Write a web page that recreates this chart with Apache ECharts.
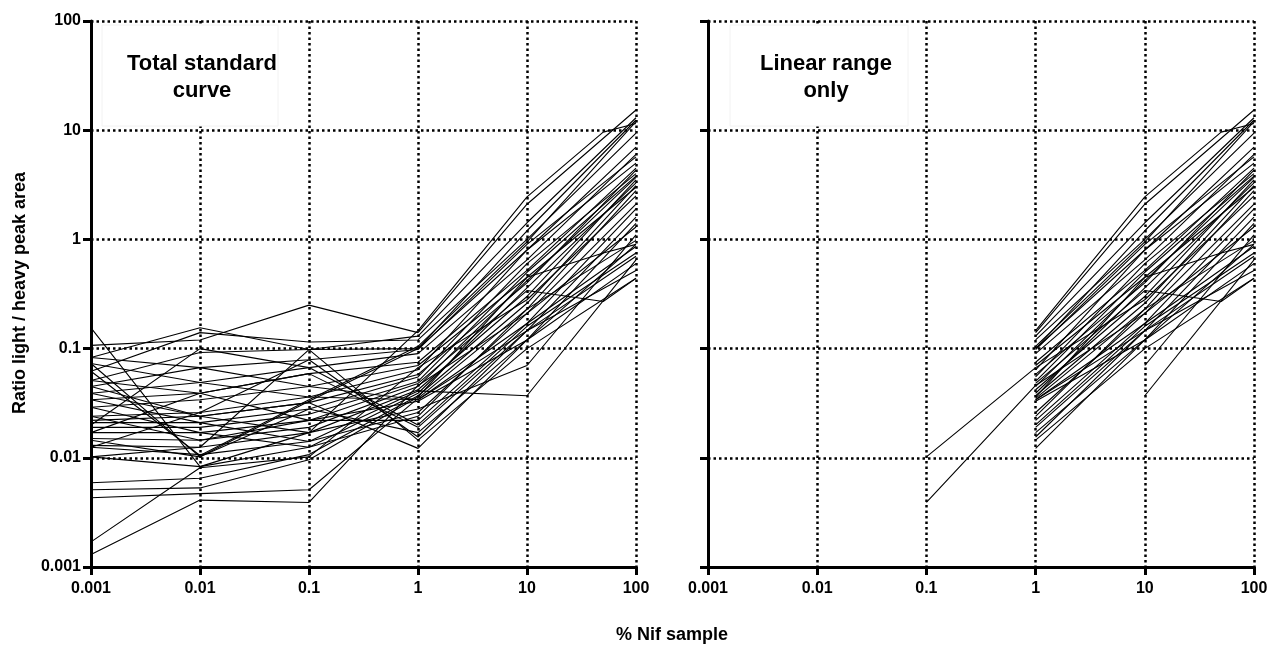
<!DOCTYPE html>
<html><head><meta charset="utf-8">
<script src="https://cdn.jsdelivr.net/npm/echarts@6/dist/echarts.min.js"></script>
<style>html,body{margin:0;padding:0;background:#fff}#c{width:1271px;height:646px}</style>
</head><body><div id="c"></div>
<script>
// x positions (% Nif sample)
const xLevels = [0.001, 0.01, 0.1, 1, 10, 50, 100];
const tickLabels = ['0.001', '0.01', '0.1', '1', '10', '100'];
// ratio light/heavy at each % level, one entry per curve
const at0001 = [0.155,0.107,0.083,0.073,0.062,0.062,0.051,0.045,0.039,0.034,0.029,0.024,0.022,0.021,0.019,0.017,0.015,0.013,0.0125,0.0102,0.0059,0.0051,0.0043,0.0017,0.0013,0.083,0.073,0.051,0.039,0.034,0.029,0.024,0.020,0.017,0.0145,0.0125,0.0102,0.045];
const at001  = [0.0083,0.12,0.155,0.0102,0.0105,0.14,0.092,0.067,0.049,0.039,0.034,0.026,0.024,0.021,0.019,0.017,0.0145,0.0125,0.0107,0.0083,0.0065,0.0053,0.0047,0.0081,0.0041,0.067,0.049,0.039,0.024,0.021,0.017,0.0145,0.1,0.039,0.0102,0.026,0.0125,0.024];
const at01   = [0.017,0.25,0.098,0.033,0.034,0.115,0.098,0.079,0.067,0.059,0.045,0.036,0.032,0.028,0.025,0.022,0.019,0.017,0.0141,0.0125,0.0107,0.0096,0.0051,0.0102,0.0039,0.045,0.036,0.022,0.017,0.0141,0.0125,0.022,0.067,0.059,0.028,0.079,0.098,0.032];
const at1    = [0.146,0.14,0.13,0.10,0.105,0.12,0.10,0.098,0.09,0.075,0.07,0.064,0.058,0.055,0.05,0.048,0.045,0.042,0.041,0.039,0.037,0.036,0.035,0.067,0.046,0.034,0.034,0.033,0.028,0.026,0.024,0.022,0.02,0.019,0.017,0.0155,0.0145,0.0122];
const at10   = [2.45,2.1,1.42,1.2,0.95,1.0,0.8,0.9,0.65,0.52,0.45,0.8,0.4,0.6,0.5,0.34,0.42,0.3,0.037,0.36,0.26,0.45,0.23,0.28,0.21,0.17,0.146,0.12,0.07,0.21,0.23,0.17,0.16,0.146,0.12,0.146,0.1,0.12];
const at50   = [9.6,null,null,null,null,null,null,null,null,null,0.75,null,null,null,null,0.27,null,null,null,null,null,null,null,null,null,null,null,null,null,null,null,null,null,null,null,null,null,null];
const at100  = [11.5,15.3,13,12.4,12,9.4,7,5.7,6,4.5,0.9,5,4.3,4,3.8,0.44,3.7,3.5,0.65,3.3,3.1,3,2.8,2.5,2.1,1.9,1.6,1.4,1.1,1.3,0.98,0.86,0.75,0.7,0.6,0.52,0.44,0.9];
// index into xLevels where the linear range of each curve begins
const linearFrom = [3,3,3,3,3,3,3,3,3,3,3,3,3,3,3,3,3,3,4,3,3,3,3,2,2,3,3,3,4,3,3,3,3,3,3,3,3,3];

const cols = [at0001, at001, at01, at1, at10, at50, at100];
const FONT = '"Liberation Sans", Arial, sans-serif';

function curvePoints(i, fromIdx) {
  const pts = [];
  xLevels.forEach((x, j) => {
    const v = cols[j][i];
    if (j >= fromIdx && v != null) pts.push([x, v]);
  });
  return pts;
}

function axis(gridIndex, showLabel) {
  return {
    type: 'log', logBase: 10, min: 0.001, max: 100, splitNumber: 5, gridIndex,
    axisLine: { show: true, onZero: false, lineStyle: { color: '#000', width: 3 } },
    axisTick: { show: true, inside: false, length: 8, lineStyle: { color: '#000', width: 3 } },
    minorTick: { show: false }, minorSplitLine: { show: false },
    splitLine: { show: true, lineStyle: { color: '#000', width: 2.5, type: [2.5, 3] } },
    axisLabel: {
      show: showLabel, color: '#000', fontFamily: FONT, fontWeight: 'bold', fontSize: 16,
      formatter: v => tickLabels[Math.round(Math.log10(v)) + 3]
    }
  };
}

const series = [];
const n = at1.length;
for (let i = 0; i < n; i++) {
  const common = { type: 'line', showSymbol: false, symbol: 'none', silent: true, z: 2,
    lineStyle: { color: '#000', width: 1.1 }, animation: false };
  series.push(Object.assign({}, common, { xAxisIndex: 0, yAxisIndex: 0, data: curvePoints(i, 0) }));
  series.push(Object.assign({}, common, { xAxisIndex: 1, yAxisIndex: 1, data: curvePoints(i, linearFrom[i]) }));
}

const xa0 = axis(0, true); xa0.axisLabel.margin = 14;
const xa1 = axis(1, true); xa1.axisLabel.margin = 14;
const ya0 = axis(0, true); ya0.axisLabel.margin = 10;
const ya1 = axis(1, false);

const chart = echarts.init(document.getElementById('c'), null, { renderer: 'canvas' });
chart.setOption({
  animation: false,
  backgroundColor: '#fff',
  grid: [
    { left: 91, top: 21, width: 545, height: 546 },
    { left: 708, top: 21, width: 546, height: 546 }
  ],
  xAxis: [xa0, xa1],
  yAxis: [ya0, ya1],
  series,
  graphic: [
    { type: 'rect', z: 1, shape: { x: 102, y: 25, width: 176, height: 101 }, style: { fill: '#fff', stroke: '#f2f2f2', lineWidth: 1 } },
    { type: 'rect', z: 1, shape: { x: 730, y: 25, width: 178, height: 101 }, style: { fill: '#fff', stroke: '#f2f2f2', lineWidth: 1 } },
    { type: 'text', z: 5, x: 202, y: 50, style: { text: 'Total standard\ncurve', align: 'center', verticalAlign: 'top', fontFamily: FONT, fontWeight: 'bold', fontSize: 22, lineHeight: 27, fill: '#000' } },
    { type: 'text', z: 5, x: 826, y: 50, style: { text: 'Linear range\nonly', align: 'center', verticalAlign: 'top', fontFamily: FONT, fontWeight: 'bold', fontSize: 22, lineHeight: 27, fill: '#000' } },
    { type: 'text', z: 5, x: 20, y: 293, rotation: Math.PI / 2, style: { text: 'Ratio light / heavy peak area', align: 'center', verticalAlign: 'middle', fontFamily: FONT, fontWeight: 'bold', fontSize: 18, fill: '#000' } },
    { type: 'text', z: 5, x: 672, y: 635, style: { text: '% Nif sample', align: 'center', verticalAlign: 'middle', fontFamily: FONT, fontWeight: 'bold', fontSize: 18, fill: '#000' } }
  ]
});
</script>
</body></html>
